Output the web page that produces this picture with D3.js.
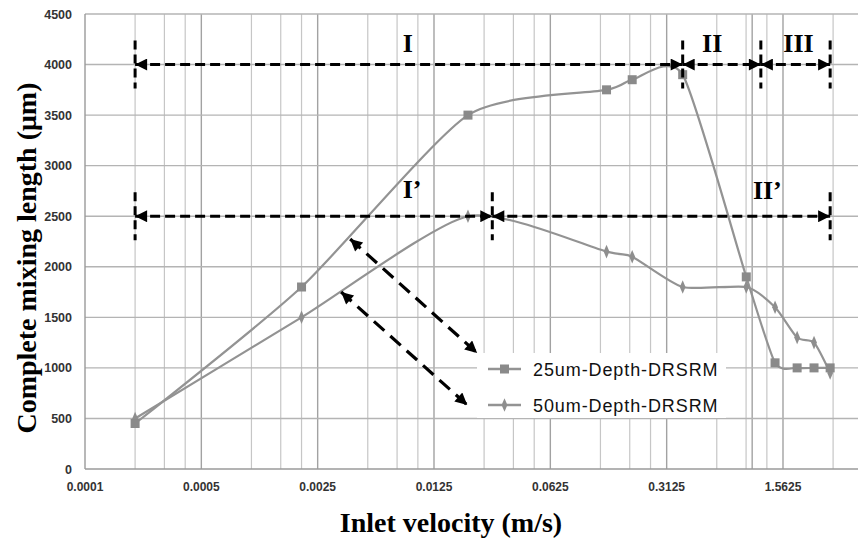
<!DOCTYPE html>
<html>
<head>
<meta charset="utf-8">
<script src="https://cdn.jsdelivr.net/npm/d3@7"></script>
<style>
  body { margin: 0; background: #fff; }
  svg { display: block; }
</style>
</head>
<body>
<svg></svg>
<script>
var width = 859;
var height = 542;

// data
var velocity = [0.0002, 0.002, 0.02, 0.136, 0.194, 0.39, 0.94, 1.4, 1.9, 2.4, 3.0];
var depth25 = [450, 1800, 3500, 3750, 3850, 3900, 1900, 1050, 1000, 1000, 1000];
var depth50 = [500, 1500, 2500, 2150, 2100, 1800, 1800, 1600, 1300, 1250, 950];
var seriesNames = ["25um-Depth-DRSRM", "50um-Depth-DRSRM"];
var xTicks = [0.0001, 0.0005, 0.0025, 0.0125, 0.0625, 0.3125, 1.5625];
var xTickLabels = ["0.0001", "0.0005", "0.0025", "0.0125", "0.0625", "0.3125", "1.5625"];
var yTicks = [0, 500, 1000, 1500, 2000, 2500, 3000, 3500, 4000, 4500];
var extraGrid = [1.02];

// region annotations (data units)
var spanY = [4000, 4000, 4000, 2500, 2500];
var spanFrom = [0.0002, 0.39, 1.15, 0.0002, 0.028];
var spanTo = [0.39, 1.15, 3.0, 0.028, 3.0];
var spanLabels = ["I", "II", "III", "I\u2019", "II\u2019"];
var labelX = [0.0081, 0.51, 1.57, 0.0081, 1.03];
var labelY = [4120, 4120, 4120, 2680, 2670];
// diagonal pointers to the legend
var diagFrom = [[0.00392, 2275], [0.00346, 1751]];
var diagTo = [[0.0227, 1147], [0.0198, 633]];

var plotLeft = 85, plotRight = 858, plotTop = 14, plotBottom = 469;

var x = d3.scaleLog().base(5)
          .domain([0.0001, 1.5625])
          .range([plotLeft, 783]);
var y = d3.scaleLinear()
          .domain([0, 4500])
          .range([plotBottom, plotTop]);

var svg = d3.select("svg")
            .attr("width", width)
            .attr("height", height);

var defs = svg.append("defs");
defs.append("clipPath").attr("id", "plot")
    .append("rect")
        .attr("x", plotLeft).attr("y", 0)
        .attr("width", plotRight - plotLeft).attr("height", height);

defs.append("marker")
    .attr("id", "head")
    .attr("viewBox", "0 0 10 10")
    .attr("refX", 10).attr("refY", 5)
    .attr("markerUnits", "userSpaceOnUse")
    .attr("markerWidth", 14).attr("markerHeight", 12)
    .attr("orient", "auto-start-reverse")
    .append("path")
        .attr("d", "M0,0L10,5L0,10z")
        .attr("fill", "#000");

// grid: minor lines at 2,3,4 times each power of 5
var minor = [];
for (var k = -1; k < 8; k++) {
    [2, 3, 4].forEach(m => minor.push(0.0001 * Math.pow(5, k) * m));
}
var grid = svg.append("g").attr("clip-path", "url(#plot)");

grid.selectAll(".minor")
    .data(minor.filter(v => x(v) > plotLeft && x(v) < plotRight))
    .enter().append("line")
        .attr("x1", d => x(d)).attr("x2", d => x(d))
        .attr("y1", plotTop).attr("y2", plotBottom)
        .attr("stroke", "#c6c6c6").attr("stroke-width", 1.2);

grid.selectAll(".major")
    .data(xTicks.slice(1).concat(extraGrid))
    .enter().append("line")
        .attr("x1", d => x(d)).attr("x2", d => x(d))
        .attr("y1", plotTop).attr("y2", plotBottom)
        .attr("stroke", "#a2a2a2").attr("stroke-width", 1.4);

grid.selectAll(".hgrid")
    .data(yTicks.slice(1))
    .enter().append("line")
        .attr("x1", plotLeft).attr("x2", plotRight)
        .attr("y1", d => y(d)).attr("y2", d => y(d))
        .attr("stroke", "#b4b4b4").attr("stroke-width", 1.4);

// axes lines
svg.append("line")
    .attr("x1", plotLeft).attr("x2", plotLeft).attr("y1", plotTop).attr("y2", plotBottom)
    .attr("stroke", "#9a9a9a").attr("stroke-width", 1.4);
svg.append("line")
    .attr("x1", plotLeft).attr("x2", plotRight).attr("y1", plotBottom).attr("y2", plotBottom)
    .attr("stroke", "#9a9a9a").attr("stroke-width", 1.4);

// tick labels
svg.selectAll(".ylab")
    .data(yTicks)
    .enter().append("text")
        .attr("x", 72).attr("y", d => y(d) + 4.5)
        .attr("text-anchor", "end")
        .style("font-family", "Liberation Sans, Arial, sans-serif")
        .style("font-size", "12.5px").style("font-weight", "bold")
        .attr("fill", "#333")
        .text(d => d);

svg.selectAll(".xlab")
    .data(xTicks)
    .enter().append("text")
        .attr("x", d => x(d)).attr("y", plotBottom + 22)
        .attr("text-anchor", "middle")
        .style("font-family", "Liberation Sans, Arial, sans-serif")
        .style("font-size", "12px").style("font-weight", "bold")
        .attr("fill", "#333")
        .text((d, i) => xTickLabels[i]);

// axis titles
svg.append("text")
    .attr("transform", "translate(36," + 258 + ") rotate(-90)")
    .attr("text-anchor", "middle")
    .style("font-family", "Liberation Serif, Times New Roman, serif")
    .style("font-size", "28px").style("font-weight", "bold")
    .text("Complete mixing length (\u03bcm)");

svg.append("text")
    .attr("x", 451).attr("y", 532)
    .attr("text-anchor", "middle")
    .style("font-family", "Liberation Serif, Times New Roman, serif")
    .style("font-size", "28px").style("font-weight", "bold")
    .text("Inlet velocity (m/s)");

// series
var lineColor = "#939393";
var line = d3.line()
             .x(d => x(d[0]))
             .y(d => y(d[1]))
             .curve(d3.curveCardinal.tension(0.35));

var s25 = velocity.map((v, i) => [v, depth25[i]]);
var s50 = velocity.map((v, i) => [v, depth50[i]]);

svg.append("path").attr("d", line(s50))
    .attr("fill", "none").attr("stroke", lineColor).attr("stroke-width", 2.2);
svg.append("path").attr("d", line(s25))
    .attr("fill", "none").attr("stroke", lineColor).attr("stroke-width", 2.2);

var diamond = d3.symbol().type(d3.symbolDiamond).size(40);

svg.selectAll(".d50")
    .data(s50)
    .enter().append("path")
        .attr("d", diamond)
        .attr("transform", d => "translate(" + x(d[0]) + "," + y(d[1]) + ") scale(0.85,1.15)")
        .attr("fill", "#8e8e8e");

svg.selectAll(".s25")
    .data(s25)
    .enter().append("rect")
        .attr("x", d => x(d[0]) - 4.5).attr("y", d => y(d[1]) - 4.5)
        .attr("width", 9).attr("height", 9)
        .attr("fill", "#8a8a8a");

// legend
var legend = svg.append("g");
legend.append("rect")
    .attr("x", 477).attr("y", 353).attr("width", 249).attr("height", 65)
    .attr("fill", "#fff");
seriesNames.forEach(function (name, i) {
    var ly = 369 + i * 36;
    legend.append("line")
        .attr("x1", 488).attr("x2", 521).attr("y1", ly).attr("y2", ly)
        .attr("stroke", lineColor).attr("stroke-width", 2.5);
    if (i === 0) {
        legend.append("rect")
            .attr("x", 500).attr("y", ly - 4.5).attr("width", 9).attr("height", 9)
            .attr("fill", "#8a8a8a");
    } else {
        legend.append("path")
            .attr("d", diamond)
            .attr("transform", "translate(504.5," + ly + ") scale(0.85,1.15)")
            .attr("fill", "#8e8e8e");
    }
    legend.append("text")
        .attr("x", 533).attr("y", ly + 6.5)
        .style("font-family", "Liberation Sans, Arial, sans-serif")
        .style("font-size", "18px")
        .style("letter-spacing", "0.9px")
        .attr("fill", "#111")
        .text(name);
});

// annotations
var ann = svg.append("g");
spanY.forEach(function (v, i) {
    ann.append("line")
        .attr("x1", x(spanFrom[i])).attr("x2", x(spanTo[i]))
        .attr("y1", y(v)).attr("y2", y(v))
        .attr("stroke", "#000").attr("stroke-width", 3)
        .attr("stroke-dasharray", "10,5")
        .attr("marker-start", "url(#head)")
        .attr("marker-end", "url(#head)");
    ann.append("text")
        .attr("x", x(labelX[i])).attr("y", y(labelY[i]))
        .style("font-family", "Liberation Serif, Times New Roman, serif")
        .style("font-size", "26px").style("font-weight", "bold")
        .text(spanLabels[i]);
});

// vertical end ticks of the spans
var tickPos = [];
spanY.forEach(function (v, i) {
    [spanFrom[i], spanTo[i]].forEach(function (t) {
        if (!tickPos.some(p => p[0] === t && p[1] === v)) tickPos.push([t, v]);
    });
});
ann.selectAll(".vtick")
    .data(tickPos)
    .enter().append("line")
        .attr("x1", d => x(d[0])).attr("x2", d => x(d[0]))
        .attr("y1", d => y(d[1]) - 24).attr("y2", d => y(d[1]) + 24)
        .attr("stroke", "#000").attr("stroke-width", 3)
        .attr("stroke-dasharray", "9,5");

diagFrom.forEach(function (p, i) {
    ann.append("line")
        .attr("x1", x(p[0])).attr("y1", y(p[1]))
        .attr("x2", x(diagTo[i][0])).attr("y2", y(diagTo[i][1]))
        .attr("stroke", "#000").attr("stroke-width", 3.2)
        .attr("stroke-dasharray", "14,8")
        .attr("marker-start", "url(#head)")
        .attr("marker-end", "url(#head)");
});
</script>
</body>
</html>
